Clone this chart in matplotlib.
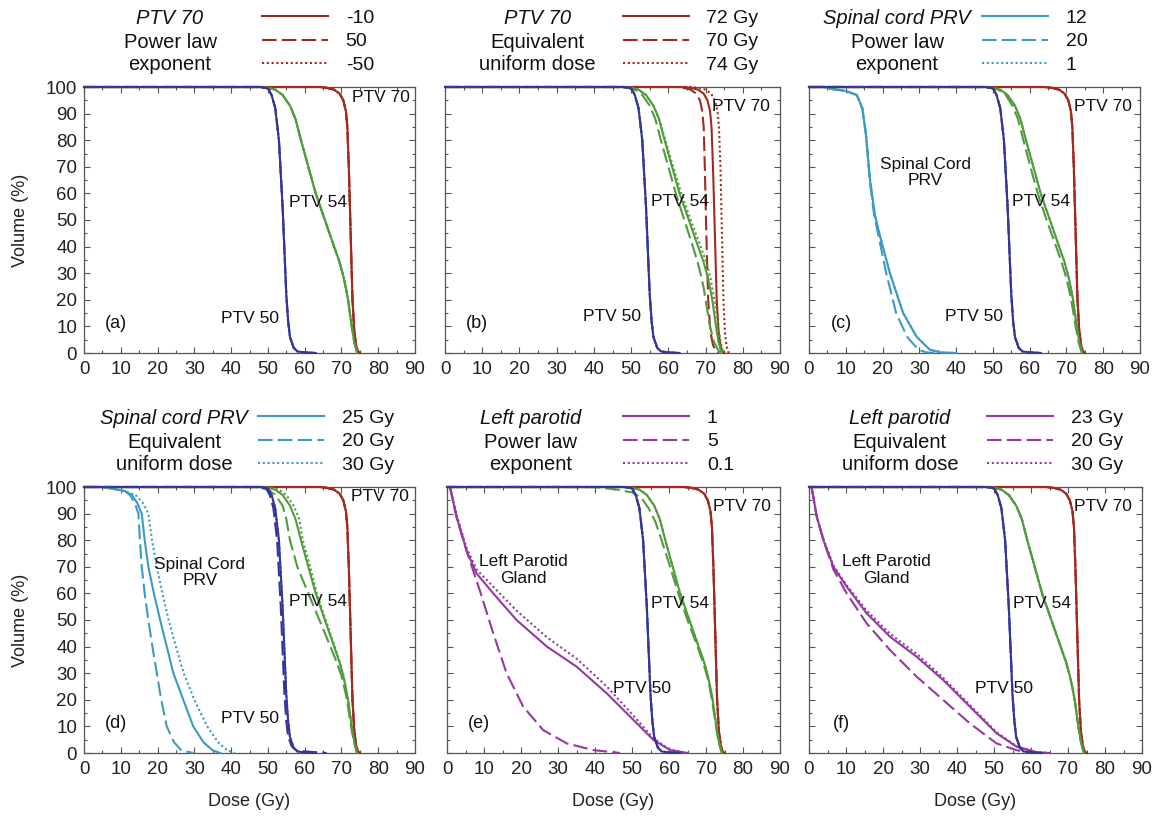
import matplotlib
matplotlib.use('Agg')
import matplotlib.pyplot as plt
from matplotlib.lines import Line2D
from matplotlib.ticker import MultipleLocator

plt.rcParams['font.family'] = ['Liberation Sans', 'DejaVu Sans']

# ---- dose-volume histogram data (dose in Gy, volume in %) ----
PTV50_DOSE = [0, 48, 50, 51, 52, 53, 54, 55, 55.5, 56, 57, 58, 60, 63]
PTV50_VOL = [100, 100, 99.5, 97, 92, 80, 55, 22, 12, 6, 2, 0.6, 0.2, 0]
PTV50_D_DASH_DOSE = [0, 47.5, 49.5, 50.5, 51.5, 52.5, 53.5, 54.5, 55, 55.5, 56.5, 57.5, 60, 66]
PTV50_D_DASH_VOL = [100, 100, 99.5, 97, 92, 80, 55, 22, 12, 6, 2.5, 1.2, 0.6, 0]

PTV54_DOSE = [0, 48, 50, 52, 54, 56, 57.5, 59, 61, 63, 65.5, 68, 69.4, 70.5, 71.2, 71.8, 72.8, 73.5, 74.3]
PTV54_VOL = [100, 100, 99.7, 99, 97, 93, 88, 80, 70, 60, 50, 40, 34.5, 29, 24.5, 20, 10, 4, 0]
PTV54_B_DASH_DOSE = [0, 47, 49, 51, 53, 55, 56.5, 58, 60, 62, 64.3, 66.6, 67.8, 68.8, 69.5, 70, 71.2, 72.3, 73.8]
PTV54_B_DOT_DOSE = [0, 48, 50, 52, 54, 56, 57.5, 59.2, 61.3, 63.5, 66, 68.7, 70.1, 71.2, 71.8, 72.4, 73.4, 74.1, 74.8]
PTV54_C_DASH_DOSE = [0, 47.5, 49.5, 51.5, 53.5, 55.3, 56.8, 58.3, 60.2, 62.2, 64.6, 67.2, 68.6, 69.8, 70.6, 71.3, 72.5, 73.3, 74.2]
PTV54_D_DASH_DOSE = [0, 46, 48, 50, 52, 54, 55, 56, 58, 61, 64, 67, 68.6, 70, 70.8, 71.5, 72.6, 73.4, 74.2]
PTV54_D_DOT_DOSE = [0, 49, 51, 53, 55, 57, 58.5, 59.5, 61.5, 63.3, 65.7, 68.2, 69.5, 70.6, 71.2, 71.8, 72.8, 73.5, 74.3]
PTV54_E_DASH_DOSE = [0, 40, 46, 50, 52.5, 54.5, 56.3, 58, 60.3, 62.5, 65, 67.7, 69.1, 70.3, 71, 71.6, 72.7, 73.4, 74.3]
PTV54_E_DASH_VOL = [100, 100, 99, 98, 96, 92, 87, 80, 70, 60, 50, 40, 34.5, 29, 24.5, 20, 10, 4, 0]

PTV70_DOSE = [0, 64, 66, 68, 69.5, 70.5, 71.2, 71.6, 72, 72.5, 73, 73.5, 74, 74.5, 75]
PTV70_VOL = [100, 100, 99.7, 99, 97.5, 95, 91, 85, 70, 45, 20, 8, 3, 0.5, 0]
PTV70_B_DASH_DOSE = [0, 62, 64, 66, 67.5, 68.5, 69.1, 69.5, 69.8, 70.2, 70.7, 71.3, 72, 72.8, 73.5]
PTV70_B_DOT_DOSE = [0, 66, 68, 70, 71.5, 72.5, 73.2, 73.6, 74, 74.4, 74.8, 75.2, 75.6, 76, 76.5]

CORD_C_DOSE = [0, 4, 6, 10, 13, 14.5, 15.5, 16.6, 17.9, 19.3, 22, 25.6, 29.3, 32.9, 36, 40]
CORD_C_DASH_DOSE = [0, 4, 6, 10, 13, 14.5, 15.5, 16.5, 17.7, 18.9, 21, 23.7, 26.7, 29.8, 32, 35]
CORD_C_VOL = [100, 100, 99.3, 98.5, 97, 92, 82, 65, 52, 44, 30, 15, 6, 1.2, 0.2, 0]

CORD_D_DOSE = [0, 5, 8, 11, 13, 14.5, 15.7, 16.5, 17.5, 19, 20.7, 22.5, 24.3, 27, 29.7, 32.5, 35, 37]
CORD_D_DASH_DOSE = [0, 5, 8, 11, 12.5, 13.8, 14.8, 15.2, 15.7, 16.5, 17.5, 18.6, 19.8, 21, 22.5, 24.5, 26.5, 29.7]
CORD_D_DOT_DOSE = [0, 5, 8, 11, 14, 16, 17.5, 18.5, 19.8, 21.3, 23, 25, 27.1, 30, 33.5, 36.5, 39, 41]
CORD_D_VOL = [100, 100, 99.3, 98.5, 97, 94, 90, 80, 70, 60, 50, 40, 30, 20, 10, 4, 1, 0]

PAROTID_E_DOSE = [0.8, 2.6, 5.3, 8, 12.5, 18.8, 27, 35, 43.2, 50.4, 55.8, 60.3, 65]
PAROTID_E_VOL = [100, 88.8, 76, 67.5, 60, 50, 40, 32.5, 22.4, 12.4, 4.9, 1.1, 0]
PAROTID_E_DOT_VOL = [100, 89.5, 77, 69, 62.5, 53.5, 43.5, 35.5, 25, 14, 5.5, 1.2, 0]
PAROTID_E_DASH_DOSE = [0.8, 2.6, 5.3, 7.2, 8.9, 12.5, 16.1, 20.6, 26, 32.4, 39.5, 46.8]
PAROTID_E_DASH_VOL = [100, 88.5, 76, 68, 61, 45, 30, 17.4, 8.6, 3.6, 1.1, 0]

PAROTID_F_DOSE = [0.7, 2.1, 3.9, 6.6, 10.2, 15.6, 21.9, 29.1, 36.3, 43.5, 50.7, 56.1, 61.5, 65]
PAROTID_F_VOL = [100, 88.8, 80, 70, 62.5, 52.5, 43.7, 36.2, 27.4, 17.4, 7.4, 2.4, 0.3, 0]
PAROTID_F_DOT_VOL = [100, 89, 80.5, 70.5, 63, 53.5, 44.8, 37.3, 28.2, 18, 7.8, 2.5, 0.3, 0]
PAROTID_F_DASH_DOSE = [0.7, 2.1, 3.9, 6.6, 10.2, 15.6, 21.9, 29.1, 36.3, 43.5, 50.7, 56, 60]
PAROTID_F_DASH_VOL = [100, 88.8, 80, 69, 60, 48.7, 38.7, 28.7, 19.9, 11.1, 3.6, 1.1, 0]

LEGEND_LABELS = [
    ['-10', '50', '-50'],
    ['72 Gy', '70 Gy', '74 Gy'],
    ['12', '20', '1'],
    ['25 Gy', '20 Gy', '30 Gy'],
    ['1', '5', '0.1'],
    ['23 Gy', '20 Gy', '30 Gy'],
]
HEADERS = [
    ('PTV 70', 'Power law', 'exponent'),
    ('PTV 70', 'Equivalent', 'uniform dose'),
    ('Spinal cord PRV', 'Power law', 'exponent'),
    ('Spinal cord PRV', 'Equivalent', 'uniform dose'),
    ('Left parotid', 'Power law', 'exponent'),
    ('Left parotid', 'Equivalent', 'uniform dose'),
]

RED = '#a3281d'
GREEN = '#4f9b3d'
BLUE = '#36369a'
CYAN = '#3b9bc2'
PURPLE = '#93399f'

STYLES = ['-', (0, (7, 2.5)), (0, (1, 1.3))]

ptv70 = [(PTV70_DOSE, PTV70_VOL)] * 3
ptv54 = [(PTV54_DOSE, PTV54_VOL)] * 3
ptv50 = [(PTV50_DOSE, PTV50_VOL)] * 3

# curve sets per panel: (colour, [solid, dashed, dotted]) drawn bottom to top
panels = [
    [(RED, ptv70), (GREEN, ptv54), (BLUE, ptv50)],
    [(RED, [(PTV70_DOSE, PTV70_VOL), (PTV70_B_DASH_DOSE, PTV70_VOL), (PTV70_B_DOT_DOSE, PTV70_VOL)]),
     (GREEN, [(PTV54_DOSE, PTV54_VOL), (PTV54_B_DASH_DOSE, PTV54_VOL), (PTV54_B_DOT_DOSE, PTV54_VOL)]),
     (BLUE, ptv50)],
    [(CYAN, [(CORD_C_DOSE, CORD_C_VOL), (CORD_C_DASH_DOSE, CORD_C_VOL), (CORD_C_DOSE, CORD_C_VOL)]),
     (RED, ptv70),
     (GREEN, [(PTV54_DOSE, PTV54_VOL), (PTV54_C_DASH_DOSE, PTV54_VOL), (PTV54_DOSE, PTV54_VOL)]),
     (BLUE, ptv50)],
    [(CYAN, [(CORD_D_DOSE, CORD_D_VOL), (CORD_D_DASH_DOSE, CORD_D_VOL), (CORD_D_DOT_DOSE, CORD_D_VOL)]),
     (RED, ptv70),
     (GREEN, [(PTV54_DOSE, PTV54_VOL), (PTV54_D_DASH_DOSE, PTV54_VOL), (PTV54_D_DOT_DOSE, PTV54_VOL)]),
     (BLUE, [(PTV50_DOSE, PTV50_VOL), (PTV50_D_DASH_DOSE, PTV50_D_DASH_VOL), (PTV50_DOSE, PTV50_VOL)])],
    [(PURPLE, [(PAROTID_E_DOSE, PAROTID_E_VOL), (PAROTID_E_DASH_DOSE, PAROTID_E_DASH_VOL),
               (PAROTID_E_DOSE, PAROTID_E_DOT_VOL)]),
     (RED, ptv70),
     (GREEN, [(PTV54_DOSE, PTV54_VOL), (PTV54_E_DASH_DOSE, PTV54_E_DASH_VOL), (PTV54_DOSE, PTV54_VOL)]),
     (BLUE, ptv50)],
    [(PURPLE, [(PAROTID_F_DOSE, PAROTID_F_VOL), (PAROTID_F_DASH_DOSE, PAROTID_F_DASH_VOL),
               (PAROTID_F_DOSE, PAROTID_F_DOT_VOL)]),
     (RED, ptv70), (GREEN, ptv54), (BLUE, ptv50)],
]
legend_colors = [RED, RED, CYAN, CYAN, PURPLE, PURPLE]

# text labels inside each panel: (text, x, y, ha)
annotations = [
    [('PTV 70', 72.8, 96, 'left'), ('PTV 54', 63.7, 56.4, 'center'), ('PTV 50', 45.1, 13, 'center')],
    [('PTV 70', 71.8, 92.6, 'left'), ('PTV 54', 63.1, 57, 'center'), ('PTV 50', 44.8, 13.6, 'center')],
    [('PTV 70', 72.1, 92.6, 'left'), ('Spinal Cord\nPRV', 31.7, 68, 'center'),
     ('PTV 54', 63.1, 57, 'center'), ('PTV 50', 44.9, 13.6, 'center')],
    [('PTV 70', 72.6, 96.4, 'left'), ('Spinal Cord\nPRV', 31.5, 68, 'center'),
     ('PTV 54', 63.7, 56.9, 'center'), ('PTV 50', 45.1, 13, 'center')],
    [('PTV 70', 71.8, 92.6, 'left'), ('Left Parotid\nGland', 20.6, 68.8, 'center'),
     ('PTV 54', 63.1, 56.3, 'center'), ('PTV 50', 52.6, 24.3, 'center')],
    [('PTV 70', 71.7, 92.6, 'left'), ('Left Parotid\nGland', 21, 68.8, 'center'),
     ('PTV 54', 62.9, 56.3, 'center'), ('PTV 50', 52.7, 24.3, 'center')],
]
letters = ['(a)', '(b)', '(c)', '(d)', '(e)', '(f)']

# axes boxes in pixels of the 1159 x 818 canvas
W, H = 1159, 818
boxes = [(84, 415), (445, 780), (809, 1140), (84, 415), (447, 780), (809, 1142)]
rows = [(87, 353), (487, 753)]
header_x = [0.26, 0.275, 0.266, 0.272, 0.25, 0.273]
legend_x = [0.538, 0.531, 0.523, 0.526, 0.529, 0.535]
TXT = '#111111'

fig = plt.figure(figsize=(W / 100, H / 100), dpi=100)

for i in range(6):
    x0, x1 = boxes[i]
    y0, y1 = rows[i // 3]
    ax = fig.add_axes([x0 / W, 1 - y1 / H, (x1 - x0) / W, (y1 - y0) / H])

    for z, (color, curves) in enumerate(panels[i]):
        for ls, (dose, vol) in zip(STYLES, curves):
            ax.plot(dose, vol, color=color, ls=ls, lw=1.5, zorder=3 + z, clip_on=False)

    ax.set_xlim(0, 90)
    ax.set_ylim(0, 100)
    ax.xaxis.set_major_locator(MultipleLocator(10))
    ax.xaxis.set_minor_locator(MultipleLocator(5))
    ax.yaxis.set_major_locator(MultipleLocator(10))
    ax.yaxis.set_minor_locator(MultipleLocator(5))
    ax.tick_params(which='both', direction='in', top=True, right=True, color='#555555', width=0.8)
    ax.tick_params(which='major', length=4, labelsize=13.5, labelcolor='#222222')
    ax.tick_params(which='minor', length=2.5)
    ax.tick_params(axis='x', pad=6)
    ax.tick_params(axis='y', pad=5)
    for sp in ax.spines.values():
        sp.set_color('#555555')
        sp.set_linewidth(0.9)

    if i % 3 == 0:
        ax.set_ylabel('Volume (%)', fontsize=13, color='#222222')
        ax.yaxis.set_label_coords(-0.165, 0.5)
    else:
        ax.tick_params(axis='y', labelleft=False)
    if i >= 3:
        ax.set_xlabel('Dose (Gy)', fontsize=13, color='#222222')
        ax.xaxis.set_label_coords(0.5, -0.15)

    for text, tx, ty, ha in annotations[i]:
        ax.text(tx, ty, text, ha=ha, va='center', fontsize=12.5, color=TXT,
                linespacing=1.1, zorder=10)
    ax.text(8.7, 11, letters[i], ha='center', va='center', fontsize=13, color=TXT)

    # header block above the panel
    title, line2, line3 = HEADERS[i]
    hx = header_x[i]
    h = y1 - y0
    ax.text(hx, (h + 69) / h, title, transform=ax.transAxes,
            ha='center', va='center', fontsize=14.5, style='italic', color=TXT)
    ax.text(hx, (h + 45) / h, line2, transform=ax.transAxes,
            ha='center', va='center', fontsize=14.5, color=TXT)
    ax.text(hx, (h + 23) / h, line3, transform=ax.transAxes,
            ha='center', va='center', fontsize=14.5, color=TXT)

    handles = [Line2D([], [], color=legend_colors[i], ls=ls, lw=1.5) for ls in STYLES]
    ax.legend(handles, LEGEND_LABELS[i], loc='upper left', bbox_to_anchor=(legend_x[i], 1.292),
              frameon=False, fontsize=14, handlelength=3.4, handletextpad=0.9,
              labelspacing=0.3, borderpad=0, borderaxespad=0, labelcolor=TXT)

fig.savefig('out.png', dpi=100)
